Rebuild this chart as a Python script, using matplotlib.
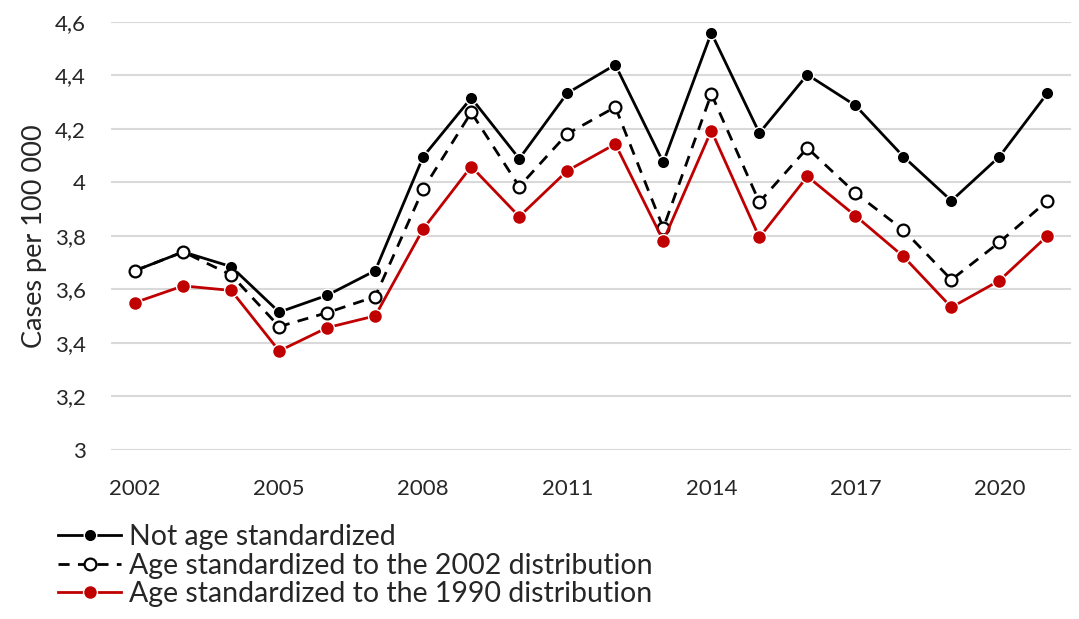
import matplotlib.pyplot as plt

years = list(range(2002, 2022))
not_std = [3.67, 3.74, 3.685, 3.515, 3.578, 3.67, 4.096, 4.315, 4.088, 4.333,
           4.439, 4.074, 4.558, 4.184, 4.402, 4.287, 4.096, 3.931, 4.096, 4.333]
std_2002 = [3.67, 3.74, 3.654, 3.461, 3.513, 3.573, 3.975, 4.261, 3.984, 4.181,
            4.281, 3.829, 4.330, 3.926, 4.128, 3.960, 3.822, 3.636, 3.776, 3.931]
std_1990 = [3.551, 3.613, 3.596, 3.370, 3.457, 3.501, 3.826, 4.059, 3.872, 4.043,
            4.143, 3.782, 4.193, 3.794, 4.022, 3.875, 3.723, 3.533, 3.633, 3.800]
labels = ["Not age standardized",
          "Age standardized to the 2002 distribution",
          "Age standardized to the 1990 distribution"]
yticks = [3, 3.2, 3.4, 3.6, 3.8, 4, 4.2, 4.4, 4.6]
xticks = [2002, 2005, 2008, 2011, 2014, 2017, 2020]

plt.rcParams['font.family'] = ['Lato', 'DejaVu Sans']

fig = plt.figure(figsize=(10.79, 6.19), dpi=100)
ax = fig.add_axes([0.103, 0.273, 0.890, 0.692])

ax.plot(years, not_std, color='black', lw=2, marker='o', ms=9,
        mfc='black', mec='white', mew=1, label=labels[0], clip_on=False, zorder=3)
ax.plot(years, std_2002, color='black', lw=2, ls=(0, (4, 3)), marker='o', ms=8.5,
        mfc='white', mec='black', mew=1.6, label=labels[1], clip_on=False, zorder=4)
ax.plot(years, std_1990, color='#c00000', lw=2, marker='o', ms=10,
        mfc='#c00000', mec='white', mew=1, label=labels[2], clip_on=False, zorder=5)

ax.set_xlim(2001.5, 2021.5)
ax.set_ylim(3, 4.6)
ax.set_yticks(yticks)
ax.set_yticklabels([f"{v:g}".replace('.', ',') for v in yticks])
ax.set_xticks(xticks)
ax.tick_params(length=0, labelsize=16, colors='#262626')
ax.tick_params(axis='y', pad=18)
ax.tick_params(axis='x', pad=21)
ax.grid(axis='y', color='#d9d9d9', lw=1.5)
ax.set_axisbelow(True)
for s in ax.spines.values():
    s.set_visible(False)
ax.set_ylabel("Cases per 100 000", fontsize=19.5, color='#262626', labelpad=6)

leg = fig.legend(loc='upper left', bbox_to_anchor=(0.054, 0.153),
                 bbox_transform=fig.transFigure, frameon=False, fontsize=20.5,
                 handlelength=2.2, handletextpad=0.3, labelspacing=0.08,
                 borderaxespad=0, borderpad=0)
for t in leg.get_texts():
    t.set_color('#262626')

fig.savefig("out.png", dpi=100)
